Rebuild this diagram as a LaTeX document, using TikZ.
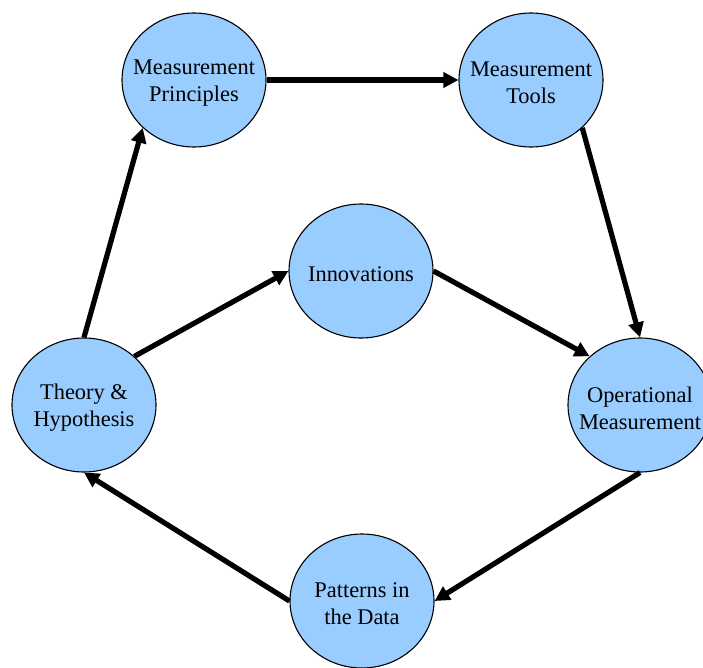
\documentclass[tikz,border=0pt]{standalone}
\usepackage{fontspec}
\setmainfont{Liberation Serif}
\usetikzlibrary{shapes.geometric,arrows.meta}
\definecolor{bubble}{RGB}{153,204,255}
\begin{document}
\begin{tikzpicture}[x=1bp,y=-1bp,
  bubblenode/.style={ellipse,draw=black,line width=1.1bp,fill=bubble,
    minimum width=144bp,minimum height=134bp,inner sep=0pt},
  bubbletext/.style={align=center,inner sep=0pt,yshift=-3bp,
    font=\fontsize{22.5}{27}\selectfont},
  flow/.style={line width=5.2bp,-{Triangle[length=15bp,width=15bp]}}]
\useasboundingbox (0,0) rectangle (703,668);
\node[bubblenode,label={[bubbletext]center:Measurement\\Principles}] (principles) at (194,80) {};
\node[bubblenode,label={[bubbletext]center:Measurement\\Tools}] (tools) at (531,80) {};
\node[bubblenode,label={[bubbletext]center:Innovations}] (innov) at (361,271) {};
\node[bubblenode,label={[bubbletext]center:Theory \&\\Hypothesis}] (theory) at (84,405) {};
\node[bubblenode,label={[bubbletext]center:Operational\\Measurement}] (oper) at (640,405) {};
\node[bubblenode,label={[bubbletext]center:Patterns in\\the Data}] (patterns) at (362,601) {};

\draw[flow] (principles.east) -- (tools.west);
\draw[flow] (tools.317) -- (oper.north);
\draw[flow] (innov.east) -- (oper.136);
\draw[flow] (oper.south) -- (patterns.east);
\draw[flow] (patterns.west) -- (theory.south);
\draw[flow] (theory.44) -- (innov.west);
\draw[flow] (theory.north) -- (principles.223);
\end{tikzpicture}
\end{document}
